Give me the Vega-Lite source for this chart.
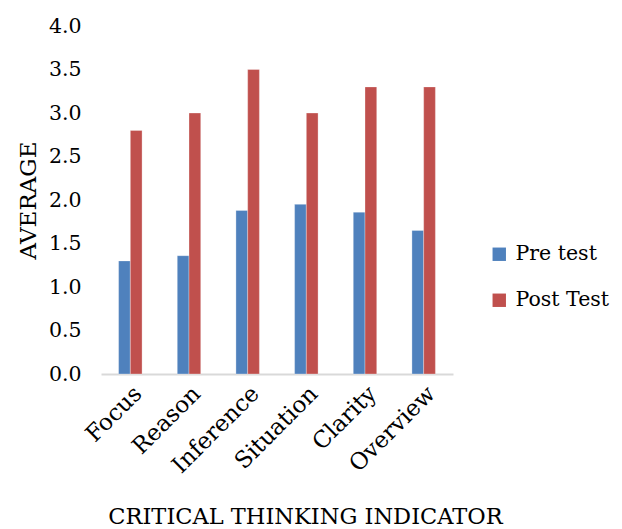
{
  "$schema": "https://vega.github.io/schema/vega-lite/v6.json",
  "width": 352,
  "height": 348,
  "autosize": {"type": "none"},
  "padding": {"left": 101, "top": 26, "right": 169, "bottom": 155},
  "background": "white",
  "config": {
    "font": "DejaVu Serif",
    "view": {"stroke": null},
    "axis": {"labelFont": "DejaVu Serif", "titleFont": "DejaVu Serif", "labelColor": "#000000", "titleColor": "#000000", "titleFontWeight": "normal", "grid": false, "ticks": false},
    "legend": {"labelFont": "DejaVu Serif"}
  },
  "data": {
    "values": [
      {"indicator": "Focus", "test": "Pre test", "average": 1.3},
      {"indicator": "Focus", "test": "Post Test", "average": 2.8},
      {"indicator": "Reason", "test": "Pre test", "average": 1.36},
      {"indicator": "Reason", "test": "Post Test", "average": 3.0},
      {"indicator": "Inference", "test": "Pre test", "average": 1.88},
      {"indicator": "Inference", "test": "Post Test", "average": 3.5},
      {"indicator": "Situation", "test": "Pre test", "average": 1.95},
      {"indicator": "Situation", "test": "Post Test", "average": 3.0},
      {"indicator": "Clarity", "test": "Pre test", "average": 1.86},
      {"indicator": "Clarity", "test": "Post Test", "average": 3.3},
      {"indicator": "Overview", "test": "Pre test", "average": 1.65},
      {"indicator": "Overview", "test": "Post Test", "average": 3.3}
    ]
  },
  "mark": {"type": "bar", "stroke": "#ffffff", "strokeWidth": 0.5, "strokeOpacity": 0.6},
  "encoding": {
    "x": {
      "field": "indicator",
      "type": "nominal",
      "sort": null,
      "scale": {"paddingInner": 0.6, "paddingOuter": 0.3},
      "axis": {
        "title": "CRITICAL THINKING INDICATOR",
        "titleFontSize": 22.5,
        "titleX": 204,
        "titleY": 131,
        "labelAngle": -45,
        "labelFontSize": 23,
        "labelPadding": 8,
        "domainColor": "#D9D9D9",
        "domainWidth": 2
      }
    },
    "xOffset": {"field": "test", "type": "nominal", "sort": ["Pre test", "Post Test"]},
    "y": {
      "field": "average",
      "type": "quantitative",
      "scale": {"domain": [0, 4]},
      "axis": {
        "title": "AVERAGE",
        "titleFontSize": 23,
        "titlePadding": 8,
        "values": [0, 0.5, 1, 1.5, 2, 2.5, 3, 3.5, 4],
        "format": ".1f",
        "labelFontSize": 20.5,
        "labelPadding": 20,
        "domain": false
      }
    },
    "color": {
      "field": "test",
      "type": "nominal",
      "sort": ["Pre test", "Post Test"],
      "scale": {"domain": ["Pre test", "Post Test"], "range": ["#4F81BD", "#C0504D"]},
      "legend": {
        "title": null,
        "orient": "none",
        "legendX": 388,
        "legendY": 218,
        "symbolType": "square",
        "symbolSize": 180,
        "symbolStrokeWidth": 0,
        "labelFontSize": 20.5,
        "labelOffset": 6,
        "rowPadding": 25
      }
    }
  }
}
